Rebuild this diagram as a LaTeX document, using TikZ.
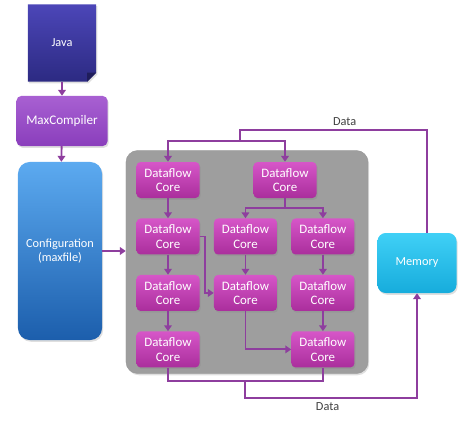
\documentclass[tikz,border=0pt]{standalone}
\usepackage{fontspec}
\setmainfont{Carlito}
\usepackage{tikz}
\usetikzlibrary{arrows.meta, positioning, backgrounds, shadows}

\definecolor{wirepurple}{RGB}{142,62,158}
\definecolor{javatop}{RGB}{76,70,184}
\definecolor{javabot}{RGB}{44,42,130}
\definecolor{maxtop}{RGB}{168,96,210}
\definecolor{maxbot}{RGB}{138,62,188}
\definecolor{cfgtop}{RGB}{92,170,240}
\definecolor{cfgbot}{RGB}{28,94,172}
\definecolor{coretop}{RGB}{214,86,200}
\definecolor{corebot}{RGB}{170,46,156}
\definecolor{memtop}{RGB}{64,208,246}
\definecolor{membot}{RGB}{22,172,220}
\definecolor{boardgray}{RGB}{158,158,158}

\begin{document}
\begin{tikzpicture}[x=0.03cm, y=-0.03cm,
    softshadow/.style={drop shadow={shadow xshift=1pt, shadow yshift=-1.5pt, opacity=0.25}},
    core/.style   ={rectangle, rounded corners=3.5pt, top color=coretop, bottom color=corebot,
                    text=white, align=center, minimum width=1.89cm, minimum height=1.08cm,
                    font=\fontsize{11}{12.5}\selectfont, softshadow},
    srcbox/.style ={rectangle, minimum width=2.04cm, minimum height=2.31cm, text=white,
                    font=\fontsize{10.5}{12}\selectfont},
    maxbox/.style ={rectangle, rounded corners=4pt, top color=maxtop, bottom color=maxbot,
                    text=white, minimum width=2.73cm, minimum height=1.5cm,
                    font=\fontsize{11.2}{13}\selectfont, softshadow},
    cfgbox/.style ={rectangle, rounded corners=10pt, top color=cfgtop, bottom color=cfgbot,
                    text=white, align=center, minimum width=2.52cm, minimum height=5.34cm,
                    font=\fontsize{10.5}{12.5}\selectfont, softshadow},
    membox/.style ={rectangle, rounded corners=7pt, top color=memtop, bottom color=membot,
                    text=white, minimum width=2.37cm, minimum height=1.8cm,
                    font=\fontsize{10.5}{12}\selectfont, softshadow},
    board/.style  ={rectangle, rounded corners=10pt, fill=boardgray, draw=gray!80,
                    minimum width=7.26cm, minimum height=6.69cm, softshadow},
    wire/.style   ={line width=1.6pt, wirepurple},
    arr/.style    ={wire, -{Triangle[width=6.5pt,length=5pt]}},
    lbl/.style    ={font=\fontsize{10.5}{12}\selectfont, text=black!75}
]
    \useasboundingbox (0,0) rectangle (458,423);

    % left column
    \node[srcbox] (java) at (62,43) {Java};
    \begin{scope}[on background layer]
        \shade[top color=javatop, bottom color=javabot, softshadow]
            (java.north west) -- (java.north east) -- ([yshift=0.27cm]java.south east)
            -- ([xshift=-0.27cm]java.south east) -- (java.south west) -- cycle;
        \fill[javabot!70!black]
            ([yshift=0.27cm]java.south east) -- ([xshift=-0.27cm]java.south east)
            -- ([xshift=-0.27cm, yshift=0.27cm]java.south east) -- cycle;
    \end{scope}
    \node[maxbox] (maxc) at (62,121) {MaxCompiler};
    \node[cfgbox] (cfg)  at (60,251) {Configuration\\(maxfile)};

    % dataflow engine
    \node[board] (grid) at (247,262) {};
    \node[core] (cA) at (168,180) {Dataflow\\Core};
    \node[core] (cB) at (285,180) {Dataflow\\Core};
    \node[core, below=0.6cm of cA] (cC) {Dataflow\\Core};
    \node[core, right=0.42cm of cC] (cD) {Dataflow\\Core};
    \node[core, right=0.42cm of cD] (cE) {Dataflow\\Core};
    \node[core, below=0.6cm of cC] (cF) {Dataflow\\Core};
    \node[core, below=0.6cm of cD] (cG) {Dataflow\\Core};
    \node[core, below=0.6cm of cE] (cH) {Dataflow\\Core};
    \node[core, below=0.6cm of cF] (cI) {Dataflow\\Core};
    \node[core, below=0.6cm of cH] (cJ) {Dataflow\\Core};

    \node[membox] (mem) at (417,263) {Memory};

    \coordinate (toprt)    at (427,130);
    \coordinate (topsplit) at (240,141);
    \coordinate (bsplit)   at (285,208);
    \coordinate (cgbend)   at ([xshift=0.15cm]cC.east);
    \coordinate (botjoin)  at (245,381);
    \coordinate (botturn)  at (245,398);

    \draw[arr] (java) -- (maxc);
    \draw[arr] (maxc) -- (cfg);
    \draw[arr] (cfg.east) -- (cfg.east -| grid.west);

    % data in from memory
    \draw[wire] (mem.north -| toprt) -- (toprt) -| node[lbl, above, pos=0.22]{Data} (topsplit);
    \draw[arr] (topsplit) -| (cA.north);
    \draw[arr] (topsplit) -| (cB.north);

    % core chains
    \draw[arr] (cA) -- (cC);
    \draw[arr] (cC) -- (cF);
    \draw[arr] (cF) -- (cI);
    \draw[arr] (cC.east) -- (cgbend) |- (cG.west);
    \draw[wire] (cB.south) -- (bsplit);
    \draw[arr] (bsplit) -| (cD.north);
    \draw[arr] (bsplit) -| (cE.north);
    \draw[arr] (cD) -- (cG);
    \draw[arr] (cE) -- (cH);
    \draw[arr] (cH) -- (cJ);
    \draw[arr] (cG.south) |- (cJ.west);

    % data out to memory
    \draw[wire] (cI.south) |- (botjoin) -| (cJ.south);
    \draw[arr] (botjoin) -- (botturn) -| node[lbl, below, pos=0.24]{Data} (mem.south);
\end{tikzpicture}
\end{document}
